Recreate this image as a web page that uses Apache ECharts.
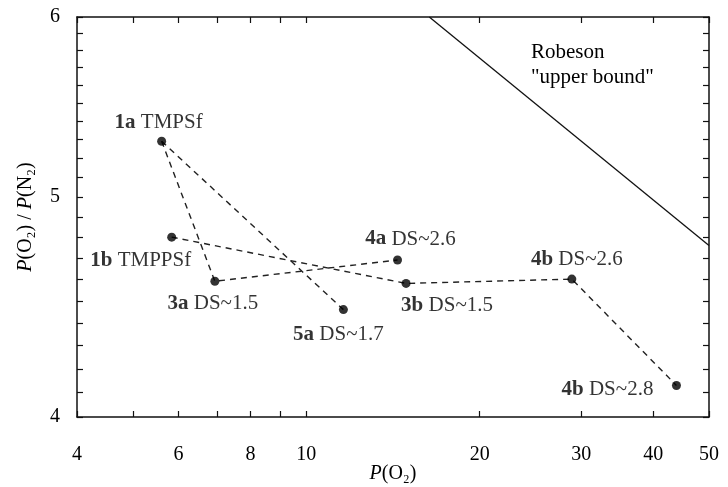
<!DOCTYPE html>
<html>
<head>
<meta charset="utf-8">
<script src="https://cdn.jsdelivr.net/npm/echarts@6/dist/echarts.min.js"></script>
<style>
  html, body { margin: 0; padding: 0; background: #fff; }
  #chart { width: 728px; height: 487px; }
</style>
</head>
<body>
<div id="chart"></div>
<script>
// membrane points: P(O2) vs selectivity P(O2)/P(N2)
const pointIds = ['1a', '1b', '3a', '5a', '4a', '3b', '4b', '4b'];
const pointDesc = ['TMPSf', 'TMPPSf', 'DS~1.5', 'DS~1.7', 'DS~2.6', 'DS~1.5', 'DS~2.6', 'DS~2.8'];
const pO2 = [5.61, 5.84, 6.94, 11.6, 14.4, 14.9, 28.9, 43.9];
const selectivity = [5.29, 4.80, 4.59, 4.46, 4.69, 4.58, 4.60, 4.13];
// dashed connections (indexes into the arrays above)
const links = [[0, 2, 4], [0, 3], [1, 5, 6, 7]];
// Robeson upper bound
const robesonX = [16.35, 50];
const robesonY = [6, 4.76];
// axis ticks
const xLabels = [4, 6, 8, 10, 20, 30, 40, 50];
const xTicks = [4, 5, 6, 7, 8, 9, 10, 20, 30, 40, 50];
const yLabels = [4, 5, 6];
const yTicks = [4, 4.1, 4.2, 4.3, 4.4, 4.5, 4.6, 4.7, 4.8, 4.9, 5, 5.1, 5.2, 5.3, 5.4, 5.5, 5.6, 5.7, 5.8, 5.9, 6];

// label placement (offset of label centre from the point)
const labelOffset = [[-3, -19], [-31, 23], [-2, 22], [-5, 25], [13, -21], [41, 22], [5, -20], [-69, 4]];

const FONT = 'Liberation Serif';
const INK = '#000';

function creatChart() {
  const chart = echarts.init(document.getElementById('chart'));

  const axisBase = {
    type: 'log',
    logBase: 10,
    axisLine: { show: true, lineStyle: { color: '#111', width: 1.5 } },
    splitLine: { show: false },
    minorTick: { show: false }
  };
  const tickStyle = { color: '#111', width: 1.2 };

  const series = links.map(function (idx) {
    return {
      type: 'line',
      xAxisIndex: 0, yAxisIndex: 0,
      data: idx.map(i => [pO2[i], selectivity[i]]),
      symbol: 'none',
      silent: true,
      lineStyle: { color: '#222', width: 1.4, type: [6, 5] },
      z: 2
    };
  });

  series.push({
    type: 'line',
    xAxisIndex: 0, yAxisIndex: 0,
    data: robesonX.map((x, i) => [x, robesonY[i]]),
    symbol: 'none',
    lineStyle: { color: '#111', width: 1.3 },
    z: 2
  });

  series.push({
    type: 'scatter',
    xAxisIndex: 0, yAxisIndex: 0,
    symbol: 'circle',
    symbolSize: 9,
    itemStyle: { color: '#000' },
    z: 3,
    data: pO2.map((x, i) => ({
      value: [x, selectivity[i]],
      label: {
        show: true,
        position: 'inside',
        offset: labelOffset[i],
        formatter: '{b|' + pointIds[i] + '} ' + pointDesc[i],
        fontFamily: FONT,
        fontSize: 21,
        color: INK,
        rich: { b: { fontFamily: FONT, fontSize: 21, fontWeight: 'bold', color: INK } }
      }
    }))
  });

  const option = {
    animation: false,
    backgroundColor: '#fff',
    grid: { left: 77, right: 19, top: 17, bottom: 70, containLabel: false, outerBoundsMode: 'none' },
    xAxis: [
      Object.assign({}, axisBase, {
        position: 'bottom', min: 4, max: 50,
        name: '{i|P}(O\u2082)',
        nameLocation: 'middle',
        nameGap: 47,
        nameMoveOverlap: false,
        nameTextStyle: {
          fontFamily: FONT, fontSize: 20, color: INK,
          rich: { i: { fontFamily: FONT, fontSize: 20, fontStyle: 'italic', color: INK } }
        },
        axisTick: { show: true, inside: true, length: 6, customValues: xTicks, lineStyle: tickStyle },
        axisLabel: { show: true, customValues: xLabels, margin: 28, fontFamily: FONT, fontSize: 20, color: INK }
      }),
      Object.assign({}, axisBase, {
        position: 'top', min: 4, max: 50,
        axisTick: { show: true, inside: true, length: 6, customValues: xTicks, lineStyle: tickStyle },
        axisLabel: { show: false }
      })
    ],
    yAxis: [
      Object.assign({}, axisBase, {
        position: 'left', min: 4, max: 6,
        name: '{i|P}(O\u2082) / {i|P}(N\u2082)',
        nameLocation: 'middle',
        nameGap: 41,
        nameMoveOverlap: false,
        nameRotate: 90,
        nameTextStyle: {
          fontFamily: FONT, fontSize: 20, color: INK,
          rich: { i: { fontFamily: FONT, fontSize: 20, fontStyle: 'italic', color: INK } }
        },
        axisTick: { show: true, inside: true, length: 6, customValues: yTicks, lineStyle: tickStyle },
        axisLabel: { show: true, customValues: yLabels, margin: 17, fontFamily: FONT, fontSize: 20, color: INK }
      }),
      Object.assign({}, axisBase, {
        position: 'right', min: 4, max: 6,
        axisTick: { show: true, inside: true, length: 6, customValues: yTicks, lineStyle: tickStyle },
        axisLabel: { show: false }
      })
    ],
    graphic: [
      {
        type: 'text',
        left: 531,
        top: 40,
        style: {
          text: 'Robeson\n"upper bound"',
          fontFamily: FONT,
          fontSize: 21,
          lineHeight: 25,
          fill: INK
        }
      }
    ],
    series: series
  };
  chart.setOption(option);
}

window.onload = function () {
  creatChart();
};
</script>
</body>
</html>
